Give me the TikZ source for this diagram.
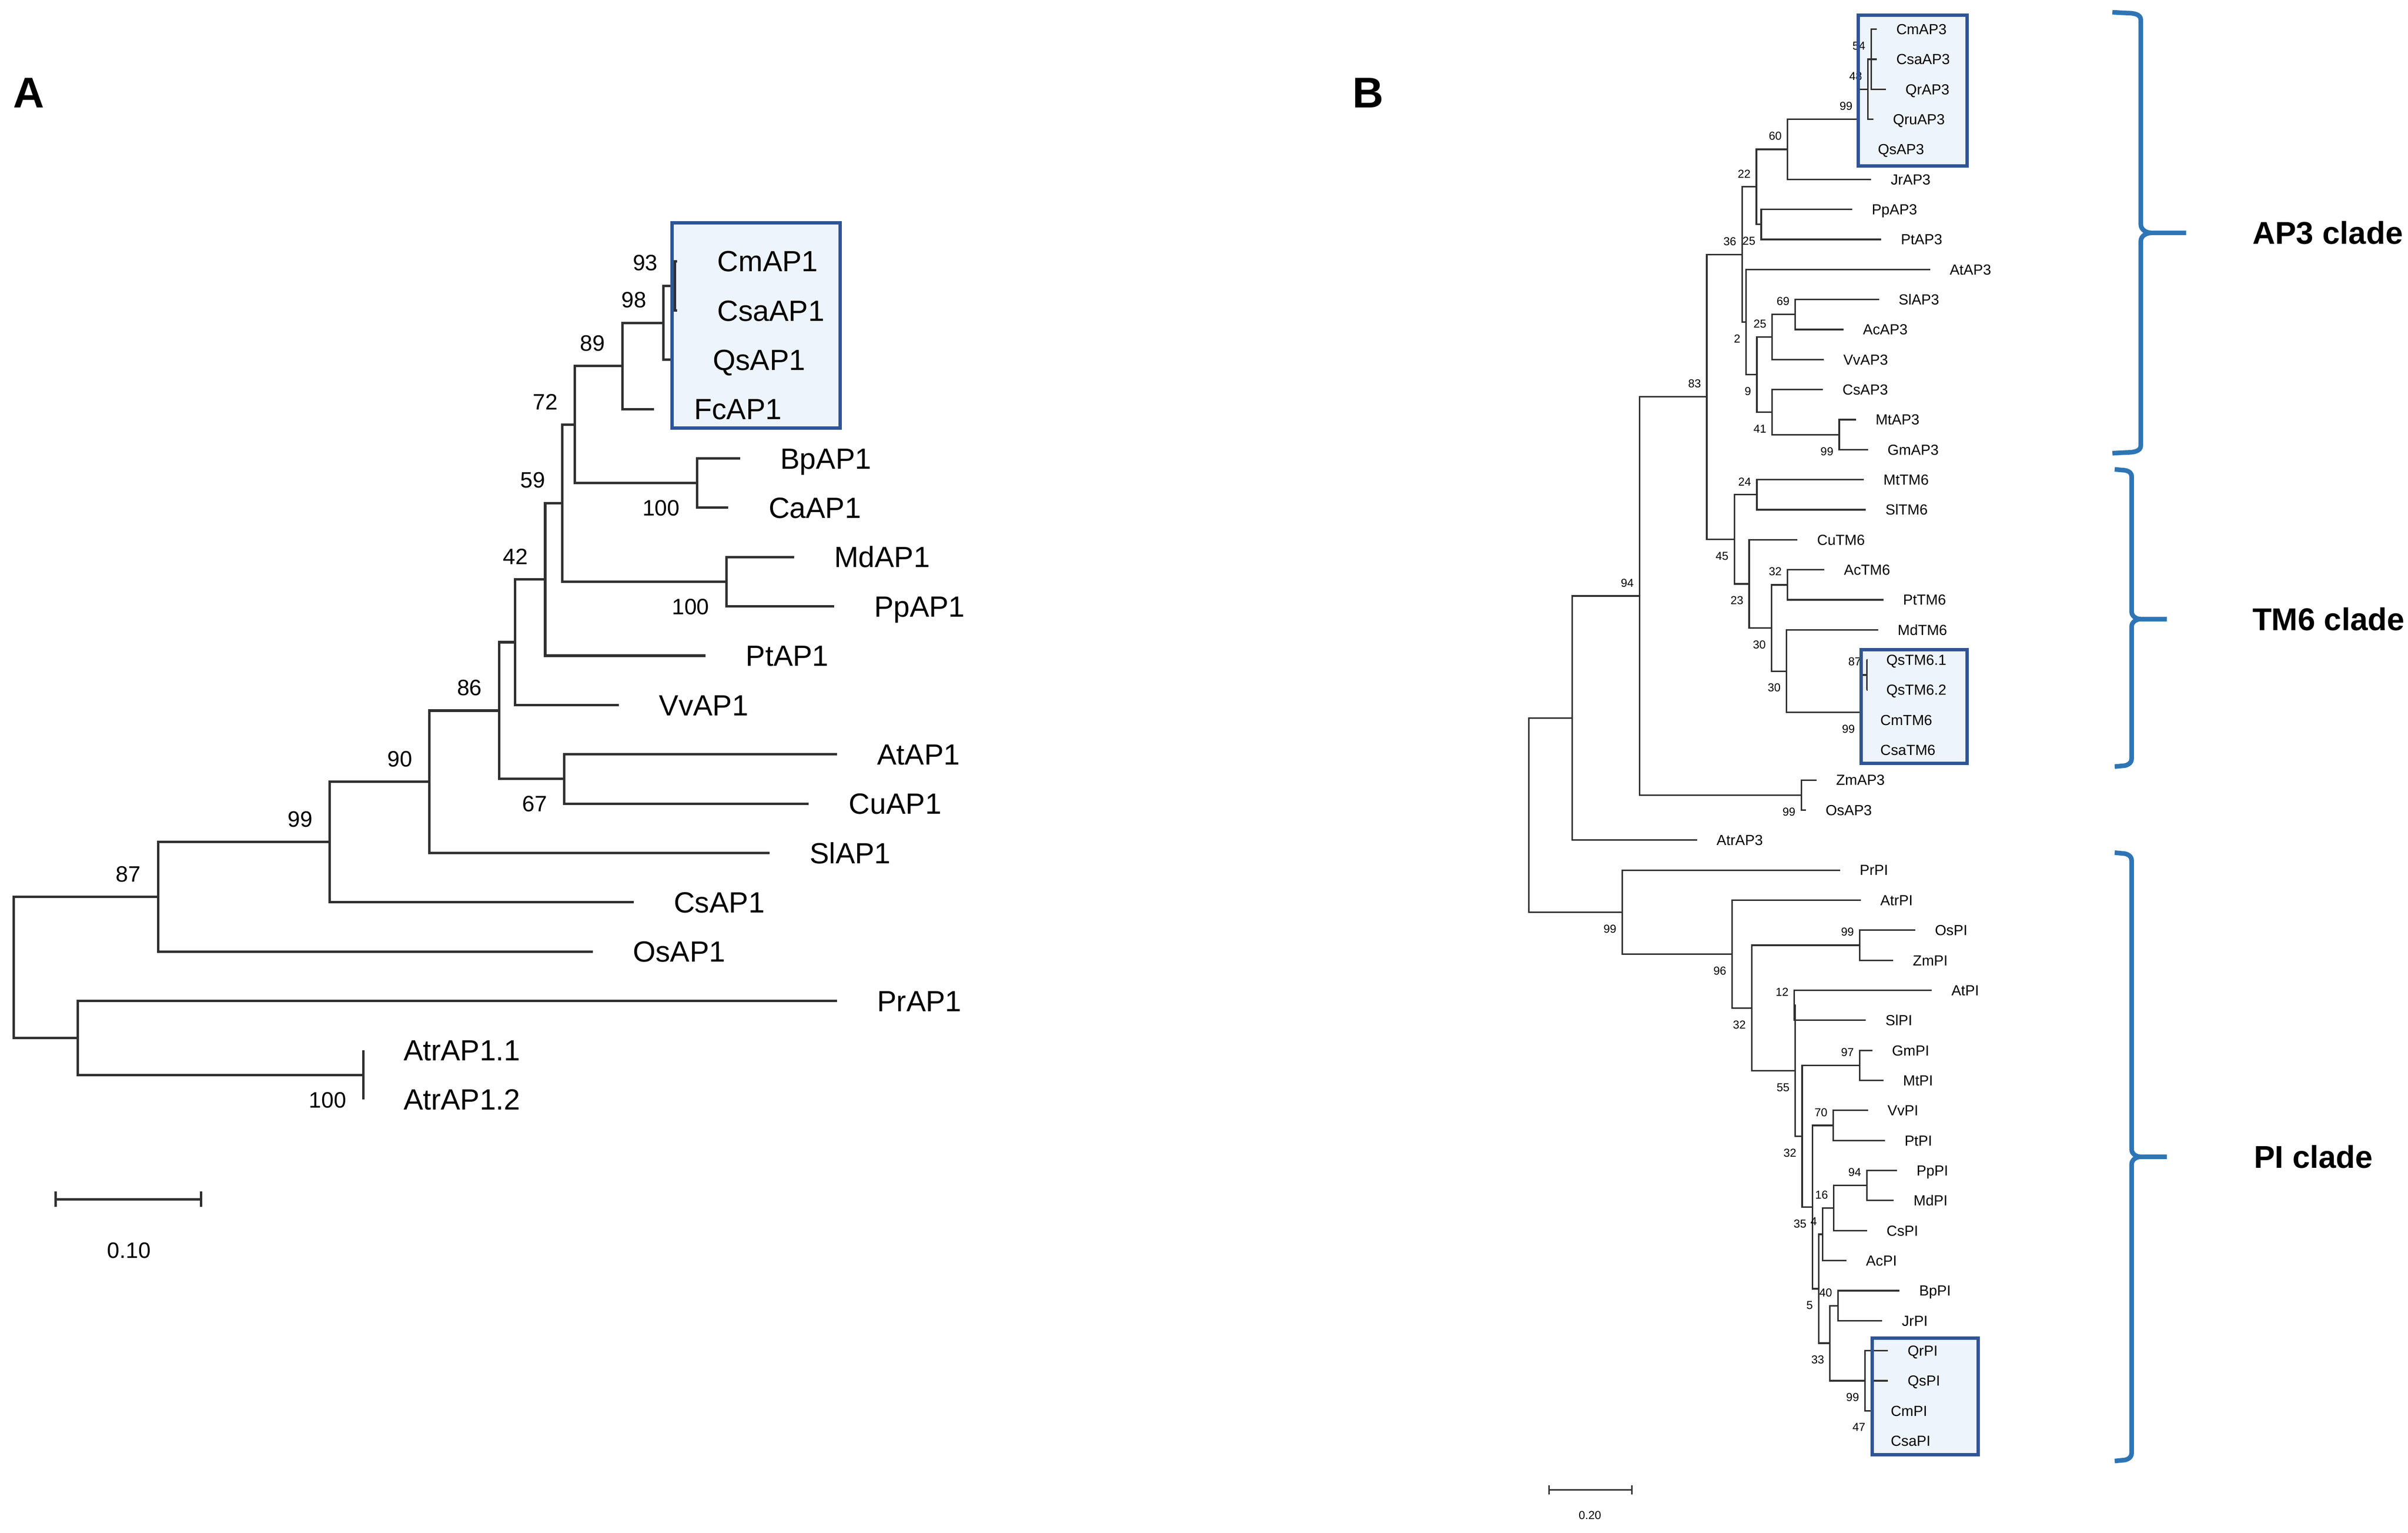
\documentclass[tikz,border=0pt]{standalone}
\usepackage{fontspec}
\setmainfont{Liberation Sans}

\definecolor{branch}{HTML}{303030}
\definecolor{boxline}{HTML}{2F5597}
\definecolor{boxfill}{HTML}{EEF4FB}
\definecolor{bracecol}{HTML}{2E75B6}

\tikzset{
  brA/.style={draw=branch, line width=1.6pt},
  brB/.style={draw=branch, line width=1pt},
  leafA/.style={font=\fontsize{19}{19}\selectfont, inner sep=0pt,
                anchor=base west, xshift=26pt, yshift=-6.8pt},
  leafB/.style={font=\fontsize{9.5}{9.5}\selectfont, inner sep=0pt,
                anchor=base west, xshift=12.6pt, yshift=-3.4pt},
  numA/.style={font=\fontsize{14.5}{14.5}\selectfont, inner sep=0pt},
  numB/.style={font=\fontsize{7.5}{7.5}\selectfont, inner sep=0pt},
  bsA/.style={numA, anchor=south east, xshift=-11pt, yshift=9.5pt},
  bsAb/.style={numA, anchor=north east, xshift=-11pt, yshift=-11pt},
  bsB/.style={numB, anchor=south east, xshift=-3.6pt, yshift=5.7pt},
  bsBb/.style={numB, anchor=north east, xshift=-3.6pt, yshift=-8pt},
  cladebox/.style={draw=boxline, line width=2.2pt},
  cbrace/.style={draw=bracecol, line width=3pt},
  clade/.style={font=\bfseries\fontsize{20.5}{20.5}\selectfont, inner sep=0pt, anchor=west},
  panel/.style={font=\bfseries\fontsize{28}{28}\selectfont, inner sep=0pt}
}

\begin{document}
\begin{tikzpicture}[x=1pt, y=-1pt]
\fill[white] (0,0) rectangle (1568,997.8);
\useasboundingbox (0,0) rectangle (1568,997.8);

% highlighted groups (fill)
\fill[boxfill] (437.5,145) rectangle (547,278.5);
\fill[boxfill] (1210,10) rectangle (1281,108);
\fill[boxfill] (1212,423) rectangle (1281,497);
\fill[boxfill] (1219,871) rectangle (1288,947);

\node[panel] (pA) at (18.8,60.5) {A};
\node[panel] (pB) at (891,60.5) {B};

%%%% tree A
\foreach \id/\tx/\txt [count=\i from 0] in {
  CmAP1/441/CmAP1, CsaAP1/441/CsaAP1, QsAP1/438/QsAP1, FcAP1/425.8/FcAP1,
  BpAP1/482/BpAP1, CaAP1/474.3/CaAP1, MdAP1/517/MdAP1, PpAP1/543/PpAP1,
  PtAP1/459.5/PtAP1, VvAP1/403/VvAP1, AtAP1/545/AtAP1, CuAP1/526.6/CuAP1,
  SlAP1/501/SlAP1, CsAP1/412.6/CsAP1, OsAP1/386/OsAP1, PrAP1/545/PrAP1,
  AtrAPi/236.6/AtrAP1.1, AtrAPii/236.6/AtrAP1.2}
{
  \coordinate (\id) at (\tx,{170+32.1*\i});
  \node[leafA] (\id-l) at (\id) {\txt};
}
\foreach \n/\x/\y in {a93/439.4/186.05, a98/432/210.13, a89/405.2/238.21,
  aBC/453.8/314.45, a72/374.4/276.33, aMP/473/378.65, a59/366.2/327.49,
  a42/355/377.15, aVv/335.3/418.03, aAC/367.4/507.05, a86/325/462.54,
  a90/279.7/508.87, a99/214.7/548.09, a87/102.9/583.75, aAtr/236.6/699.65,
  aPr/50.6/675.58, aroot/9/629.66}
  \coordinate (\n) at (\x,\y);

\foreach \p/\cs in {aroot/{a87,aPr}, a87/{a99,OsAP1}, a99/{a90,CsAP1},
  a90/{a86,SlAP1}, a86/{aVv,aAC}, aVv/{a42,VvAP1}, a42/{a59,PtAP1},
  a59/{a72,aMP}, a72/{a89,aBC}, a89/{a98,FcAP1}, a98/{a93,QsAP1},
  a93/{CmAP1,CsaAP1}, aBC/{BpAP1,CaAP1}, aMP/{MdAP1,PpAP1},
  aAC/{AtAP1,CuAP1}, aPr/{PrAP1,aAtr}, aAtr/{AtrAPi,AtrAPii}}
  \foreach \c in \cs \draw[brA] (\p) |- (\c);

\foreach \n/\v in {a93/93, a98/98, a89/89, a72/72, a59/59, a42/42,
  a86/86, a90/90, a99/99, a87/87}
  \node[bsA] at (\n) {\v};
\foreach \n/\v in {aBC/100, aMP/100, aAC/67, aAtr/100}
  \node[bsAb] at (\n) {\v};

% scale A
\coordinate (sa1) at (36.2,780.6);
\coordinate (sa2) at (130.8,780.6);
\draw[brA] (sa1) -- (sa2);
\draw[brA] ([yshift=5pt]sa1) -- ([yshift=-5pt]sa1);
\draw[brA] ([yshift=5pt]sa2) -- ([yshift=-5pt]sa2);
\node[numA] (sal) at (84,814) {0.10};

%%%% tree B
\foreach \id/\tx/\txt [count=\i from 0] in {
  CmAP3/1222/CmAP3, CsaAP3/1222/CsaAP3, QrAP3/1228/QrAP3, QruAP3/1219.8/QruAP3,
  QsAP3/1210/QsAP3, JrAP3/1218.4/JrAP3, PpAP3/1206/PpAP3, PtAP3/1225/PtAP3,
  AtAP3/1256.8/AtAP3, SlAP3/1223.5/SlAP3, AcAP3/1200.3/AcAP3, VvAP3/1187.5/VvAP3,
  CsAP3/1187/CsAP3, MtAP3/1208.5/MtAP3, GmAP3/1216.3/GmAP3, MtTM6/1213.6/MtTM6,
  SlTM6/1215/SlTM6, CuTM6/1170.4/CuTM6, AcTM6/1187.9/AcTM6, PtTM6/1226.4/PtTM6,
  MdTM6/1222.9/MdTM6, QsTMi/1215.5/QsTM6.1, QsTMii/1215.5/QsTM6.2,
  CmTM6/1211.6/CmTM6, CsaTM6/1211.6/CsaTM6, ZmAP3/1182.8/ZmAP3, OsAP3/1176/OsAP3,
  AtrAP3/1105/AtrAP3, PrPI/1198.2/PrPI, AtrPI/1211.6/AtrPI, OsPI/1247.2/OsPI,
  ZmPI/1232.8/ZmPI, AtPI/1257.9/AtPI, SlPI/1215/SlPI, GmPI/1219.2/GmPI,
  MtPI/1226.4/MtPI, VvPI/1216.3/VvPI, PtPI/1227.4/PtPI, PpPI/1235.2/PpPI,
  MdPI/1233.2/MdPI, CsPI/1215.7/CsPI, AcPI/1202.3/AcPI, BpPI/1236.9/BpPI,
  JrPI/1225.6/JrPI, QrPI/1229.4/QrPI, QsPI/1229.4/QsPI, CmPI/1218.4/CmPI,
  CsaPI/1218.4/CsaPI}
{
  \coordinate (\id) at (\tx,{19+19.55*\i});
  \node[leafB] (\id-l) at (\id) {\txt};
}
\foreach \n/\x/\y in {b54/1218.4/38.55, b48/1216.3/58.1, b99a/1210/77.65,
  b60/1163.9/97.2, b25a/1146.8/146.08, b22/1143.7/121.64, b69/1169/204.73,
  b25b/1154/219.39, b99c/1197.6/282.93, b41/1154/268.26, b9/1144/243.83,
  b2/1137/209.61, b36/1134.4/165.63, b24/1144/322.03, b32a/1163.9/380.68,
  b87/1215.7/439.33, b99d/1211.6/463.76, b30b/1163.2/436.88, b30a/1153.6/408.78,
  b23/1139/380.06, b45/1129.3/351.05, b83/1111.4/258.34, b99e/1172.9/517.53,
  b94a/1067.6/387.94, bbase/1023.8/467.4,
  b99g/1211/615.28, b12/1168.4/654.38, b97/1211/693.48, b70/1193.7/732.58,
  b94b/1215.7/771.68, b16/1194.1/786.34, b4/1186.9/803.45, b40/1196.8/849.88,
  b47/1218.4/918.3, b99h/1214.3/898.75, b33/1191.6/874.31, b5/1184.2/838.88,
  b35/1180.1/785.73, b32c/1173.5/739.6, b55/1169/696.99, b32b/1140.6/656.13,
  b96/1127.9/621.04, b99f/1056.3/593.72, broot/995.6/530.56}
  \coordinate (\n) at (\x,\y);

\foreach \p/\cs in {broot/{bbase,b99f}, bbase/{b94a,AtrAP3}, b94a/{b83,b99e},
  b83/{b36,b45}, b36/{b22,b2}, b22/{b60,b25a}, b60/{b99a,JrAP3},
  b99a/{b48,QsAP3}, b48/{b54,QruAP3}, b54/{CmAP3,CsaAP3,QrAP3},
  b25a/{PpAP3,PtAP3}, b2/{AtAP3,b9}, b9/{b25b,b41}, b25b/{b69,VvAP3},
  b69/{SlAP3,AcAP3}, b41/{CsAP3,b99c}, b99c/{MtAP3,GmAP3},
  b45/{b24,b23}, b24/{MtTM6,SlTM6}, b23/{CuTM6,b30a}, b30a/{b32a,b30b},
  b32a/{AcTM6,PtTM6}, b30b/{MdTM6,b99d}, b99d/{b87,CmTM6,CsaTM6},
  b87/{QsTMi,QsTMii}, b99e/{ZmAP3,OsAP3},
  b99f/{PrPI,b96}, b96/{AtrPI,b32b}, b32b/{b99g,b55}, b99g/{OsPI,ZmPI},
  b55/{b12,b32c}, b12/{AtPI,SlPI}, b32c/{b97,b35}, b97/{GmPI,MtPI},
  b35/{b70,b5}, b70/{VvPI,PtPI}, b5/{b4,b33}, b4/{b16,AcPI},
  b16/{b94b,CsPI}, b94b/{PpPI,MdPI}, b33/{b40,b99h}, b40/{BpPI,JrPI},
  b99h/{QrPI,b47}, b47/{QsPI,CmPI,CsaPI}}
  \foreach \c in \cs \draw[brB] (\p) |- (\c);

\foreach \n/\v in {b54/54, b48/48, b99a/99, b60/60, b22/22, b36/36, b83/83,
  b94a/94, b69/69, b25b/25, b24/24, b32a/32, b87/87, b99g/99, b12/12,
  b97/97, b70/70, b16/16, b94b/94, b4/4, b40/40}
  \node[bsB] at (\n) {\v};
\foreach \n/\v in {b25a/25, b2/2, b9/9, b41/41, b99c/99, b45/45, b23/23,
  b30a/30, b30b/30, b99d/99, b99e/99, b99f/99, b96/96, b32b/32, b55/55,
  b32c/32, b35/35, b5/5, b33/33, b99h/99, b47/47}
  \node[bsBb] at (\n) {\v};

% scale B
\coordinate (sb1) at (1008.6,969.8);
\coordinate (sb2) at (1062.5,969.8);
\draw[brB, line width=1.2pt] (sb1) -- (sb2);
\draw[brB] ([yshift=3pt]sb1) -- ([yshift=-3pt]sb1);
\draw[brB] ([yshift=3pt]sb2) -- ([yshift=-3pt]sb2);
\node[numB] (sbl) at (1035.3,986.4) {0.20};

% highlighted groups (frame)
\draw[cladebox] (437.5,145) rectangle (547,278.5);
\draw[cladebox] (1210,10) rectangle (1281,108);
\draw[cladebox] (1212,423) rectangle (1281,497);
\draw[cladebox] (1219,871) rectangle (1288,947);

% clade braces
\draw[cbrace] (1375.5,8) -- (1385,8.5) to[out=0,in=90] (1394,13) -- (1394,146)
  to[out=-90,in=180] (1401,151.6) -- (1423.5,151.6)
  (1401,151.6) to[out=180,in=90] (1394,157) -- (1394,290)
  to[out=-90,in=0] (1385,294.5) -- (1375.5,295);
\draw[cbrace] (1377,305.5) -- (1382,306) to[out=0,in=90] (1388,310) -- (1388,398)
  to[out=-90,in=180] (1394,403) -- (1411,403)
  (1394,403) to[out=180,in=90] (1388,408) -- (1388,494)
  to[out=-90,in=0] (1382,498.5) -- (1377,499);
\draw[cbrace] (1377,555) -- (1382,555.5) to[out=0,in=90] (1388,560) -- (1388,748)
  to[out=-90,in=180] (1394,753) -- (1411,753)
  (1394,753) to[out=180,in=90] (1388,758) -- (1388,946)
  to[out=-90,in=0] (1382,950.5) -- (1377,951);
\node[clade] (ap3) at (1466.5,151.6) {AP3 clade};
\node[clade] (tm6) at (1466.5,403) {TM6 clade};
\node[clade] (pi) at (1467.5,753) {PI clade};
\end{tikzpicture}
\end{document}
